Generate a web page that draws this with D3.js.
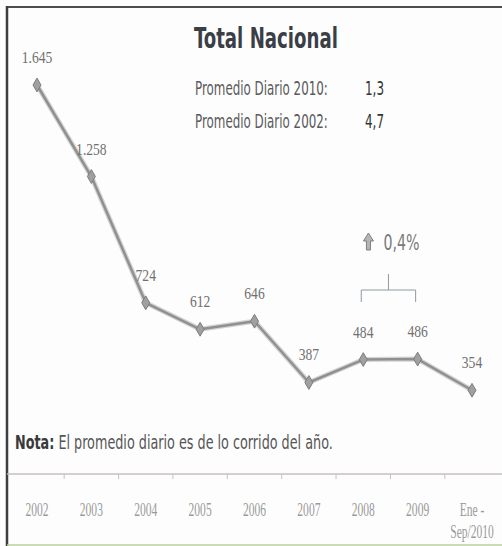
<!DOCTYPE html>
<html>
<head>
<meta charset="utf-8">
<script src="https://cdn.jsdelivr.net/npm/d3@7"></script>
<style>
  html, body { margin: 0; padding: 0; background: #fdfdfd; }
  svg { display: block; }
</style>
</head>
<body>
<svg id="chart" width="502" height="546"></svg>
<script>
// ---- data ----
const categories = ["2002","2003","2004","2005","2006","2007","2008","2009","Ene -\nSep/2010"];
const values = [1645, 1258, 724, 612, 646, 387, 484, 486, 354];
const valueLabels = ["1.645","1.258","724","612","646","387","484","486","354"];
const titleText = "Total Nacional";
const summaryLabels = ["Promedio Diario 2010:", "Promedio Diario 2002:"];
const summaryValues = ["1,3", "4,7"];
const changeText = "0,4%";
const noteBold = "Nota:";
const noteText = " El promedio diario es de lo corrido del año.";

// ---- setup ----
const svg = d3.select("#chart");
const W = 502, H = 546;
const narrow = "'Liberation Sans Narrow', 'DejaVu Sans Condensed', 'Roboto', sans-serif";
const serif = "'Liberation Serif', 'DejaVu Serif', serif";

svg.append("rect").attr("width", W).attr("height", H).attr("fill", "#fdfdfd");

// place a text in a group at (x,y) and squeeze it horizontally to a target width
function fitText(parent, px, py, width, opts) {
  const g = parent.append("g").attr("transform", `translate(${px},${py})`);
  const t = g.append("text").attr("x", 0).attr("y", 0)
    .attr("font-family", opts.family).attr("font-size", opts.size)
    .attr("fill", opts.fill).attr("text-anchor", opts.anchor || "start");
  if (opts.weight) t.attr("font-weight", opts.weight);
  return { g, t, fit() {
    const w = t.node().getComputedTextLength();
    if (w > 0) t.attr("transform", `scale(${width / w},1)`);
  }};
}

const x = d3.scaleBand().domain(categories).range([9.8, 499.2]).padding(0);
const xc = c => x(c) + x.bandwidth() / 2;
const y = d3.scaleLinear().domain([0, d3.max(values)]).range([474, 85]);

const data = categories.map((c, i) => ({ c, v: values[i], label: valueLabels[i] }));

// frame
svg.append("line").attr("x1", 6).attr("x2", W).attr("y1", 7).attr("y2", 7)
  .attr("stroke", "#4d4f4f").attr("stroke-width", 2);
svg.append("line").attr("x1", 7).attr("x2", 7).attr("y1", 6).attr("y2", H)
  .attr("stroke", "#3e3e3e").attr("stroke-width", 2.5);
svg.append("line").attr("x1", 7).attr("x2", W).attr("y1", 545).attr("y2", 545)
  .attr("stroke", "#b9cf9c").attr("stroke-width", 1.5);

// title block
const title = fitText(svg, 194, 48, 144, { family: narrow, size: 29, weight: "bold", fill: "#3a3e46" });
title.t.text(titleText); title.fit();

const rowsY = [95, 128];
summaryLabels.forEach((t, i) => {
  const a = fitText(svg, 195, rowsY[i], 133, { family: narrow, size: 20, fill: "#5a5a5a" });
  a.t.text(t); a.fit();
  const b = fitText(svg, 365, rowsY[i], 19, { family: narrow, size: 20, fill: "#333" });
  b.t.text(summaryValues[i]); b.fit();
});

// axis baseline and boundary ticks
svg.append("line").attr("x1", 7).attr("x2", W).attr("y1", y(0)).attr("y2", y(0))
  .attr("stroke", "#c9bfc3").attr("stroke-width", 1.5);
const bounds = categories.slice(1).map(c => x(c));
svg.append("g").selectAll("line").data(bounds).join("line")
  .attr("x1", d => d).attr("x2", d => d)
  .attr("y1", y(0)).attr("y2", y(0) + 5)
  .attr("stroke", "#c9bfc3").attr("stroke-width", 1);

// x axis labels via d3 axis
const axisG = svg.append("g").attr("transform", `translate(0, ${y(0)})`)
  .call(d3.axisBottom(x).tickSize(0).tickPadding(0));
axisG.select(".domain").remove();
axisG.selectAll(".tick text").each(function(d) {
  const t = d3.select(this);
  t.text(null).attr("y", 0).attr("dy", null)
    .attr("font-family", serif).attr("font-size", 18).attr("fill", "#9a9a9a")
    .attr("text-anchor", "middle").attr("transform", "scale(0.64,1)");
  const lines = d.split("\n");
  lines.forEach((ln, j) => {
    t.append("tspan").attr("x", 0).attr("y", 42 + j * 22).text(ln);
  });
});
axisG.selectAll(".tick").attr("transform", d => `translate(${xc(d)},0)`);

// line
const lineGen = d3.line().x(d => xc(d.c)).y(d => y(d.v));
svg.append("path").datum(data).attr("d", lineGen)
  .attr("fill", "none").attr("stroke", "#d4d4d4").attr("stroke-width", 5)
  .attr("stroke-linejoin", "round");
svg.append("path").datum(data).attr("d", lineGen)
  .attr("fill", "none").attr("stroke", "#909090").attr("stroke-width", 2.5)
  .attr("stroke-linejoin", "round");

// markers
svg.append("g").selectAll("path").data(data).join("path")
  .attr("d", d3.symbol().type(d3.symbolDiamond).size(55))
  .attr("transform", d => `translate(${xc(d.c)},${y(d.v)})`)
  .attr("fill", "#a0a0a0").attr("stroke", "#7c7c7c").attr("stroke-width", 1);

// value labels
svg.append("g").selectAll("g").data(data).join("g")
  .attr("transform", d => `translate(${xc(d.c)},${y(d.v) - 22})`)
  .append("text")
  .attr("text-anchor", "middle").attr("transform", "scale(0.8,1)")
  .attr("font-family", serif).attr("font-size", 17).attr("fill", "#707070")
  .text(d => d.label);

// change annotation bracket between 2008 and 2009
const bx1 = xc("2008") - 2, bx2 = xc("2009") - 2, by = 290;
const bmid = (bx1 + bx2) / 2;
svg.append("path")
  .attr("d", `M${bx1},${by + 12}V${by}H${bx2}V${by + 12}M${bmid},${by}V${by - 16}`)
  .attr("fill", "none").attr("stroke", "#8f9aa0").attr("stroke-width", 1);

// up arrow + percent
const ax = bmid - 20, ay = 233;
svg.append("path")
  .attr("d", `M${ax},${ay}L${ax + 5},${ay + 8}H${ax + 2}V${ay + 17}H${ax - 2}V${ay + 8}H${ax - 5}Z`)
  .attr("fill", "#b5b5b5").attr("stroke", "#7f7f7f").attr("stroke-width", 1);
const pct = fitText(svg, bmid - 5, 250, 36, { family: narrow, size: 21, fill: "#7a7a7a" });
pct.t.text(changeText); pct.fit();

// note
const note = fitText(svg, 15, 449, 318, { family: narrow, size: 19, fill: "#555" });
note.t.append("tspan").attr("font-weight", "bold").attr("fill", "#3a3a3a").text(noteBold);
note.t.append("tspan").text(noteText);
note.fit();
</script>
</body>
</html>
